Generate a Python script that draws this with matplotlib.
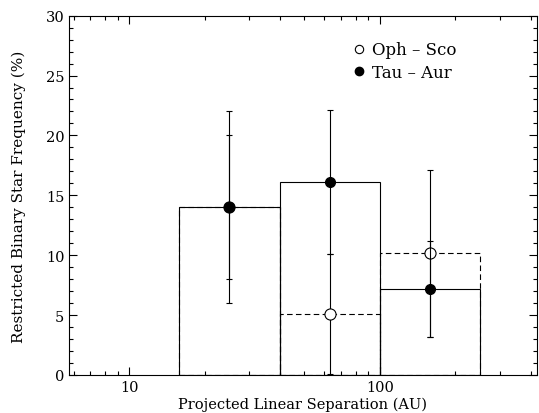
import matplotlib
matplotlib.use("Agg")
import matplotlib.pyplot as plt
from matplotlib.ticker import LogLocator, FixedLocator, FixedFormatter, MultipleLocator, NullFormatter

# bins in projected separation (AU)
bin_left = [15.85, 39.8, 100.0]
bin_right = [39.8, 100.0, 251.2]
bin_center = [25.1, 63.1, 158.5]

# restricted binary frequency (%)
oph_freq = [14.05, 5.1, 10.15]
oph_err = [8.0, 5.0, 7.0]
tau_freq = [14.05, 16.1, 7.15]
tau_err = [6.0, 6.0, 4.0]

plt.rcParams['font.family'] = ['DejaVu Serif']

fig = plt.figure(figsize=(5.39, 4.14), dpi=100)
ax = fig.add_axes([0.1286, 0.0918, 0.867, 0.868])

widths = [r - l for l, r in zip(bin_left, bin_right)]

# histogram outlines
ax.bar(bin_left, oph_freq, width=widths, align='edge', fill=False,
       edgecolor='black', linewidth=0.8, linestyle=(0, (5, 3)), zorder=2)
ax.bar(bin_left, tau_freq, width=widths, align='edge', fill=False,
       edgecolor='black', linewidth=0.8, zorder=3)

# error bars + points
ax.errorbar(bin_center, oph_freq, yerr=oph_err, fmt='o', mfc='white', mec='black',
            ms=8, mew=0.8, ecolor='black', elinewidth=0.8, capsize=2.5, capthick=0.8,
            zorder=4)
ax.errorbar(bin_center, tau_freq, yerr=tau_err, fmt='o', mfc='black', mec='black',
            ms=7, ecolor='black', elinewidth=0.8, capsize=2.5, capthick=0.8,
            zorder=5)

# legend
ax.plot([], [], 'o', mfc='white', mec='black', ms=6, mew=0.8, label='Oph – Sco')
ax.plot([], [], 'o', mfc='black', mec='black', ms=6, label='Tau – Aur')
handles, labels = ax.get_legend_handles_labels()
ax.legend(handles[-2:], labels[-2:], loc='upper left', bbox_to_anchor=(0.57, 0.97),
          frameon=False, fontsize=12, handletextpad=0.3, handlelength=1.0,
          labelspacing=0.35)

ax.set_xscale('log')
ax.set_xlim(10 ** 0.761, 10 ** 2.625)
ax.set_ylim(0, 30)

ax.xaxis.set_major_locator(FixedLocator([10, 100]))
ax.xaxis.set_major_formatter(FixedFormatter(['10', '100']))
ax.xaxis.set_minor_locator(LogLocator(base=10, subs=range(2, 10)))
ax.xaxis.set_minor_formatter(NullFormatter())
ax.yaxis.set_major_locator(MultipleLocator(5))
ax.yaxis.set_minor_locator(MultipleLocator(1))

ax.tick_params(which='both', direction='in', top=True, right=True, labelsize=10.5)
ax.tick_params(which='major', length=6, width=0.8)
ax.tick_params(which='minor', length=3, width=0.8)
for s in ax.spines.values():
    s.set_linewidth(0.8)

ax.set_xlabel('Projected Linear Separation (AU)', fontsize=10.5, labelpad=2)
ax.set_ylabel('Restricted Binary Star Frequency (%)', fontsize=11, labelpad=14)

fig.savefig('out.png', dpi=100)
